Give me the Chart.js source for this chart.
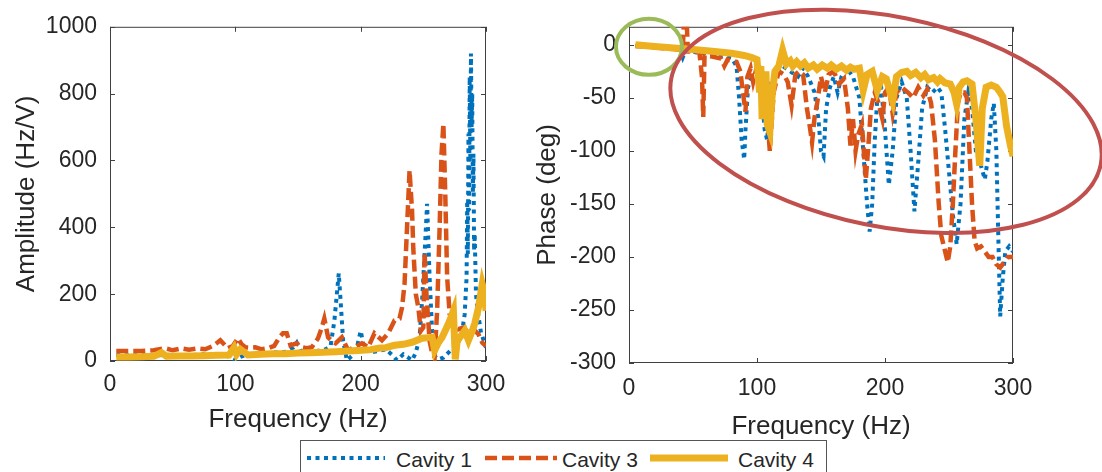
<!DOCTYPE html>
<html>
<head>
<meta charset="utf-8">
<script src="https://cdn.jsdelivr.net/npm/chart.js@4.4.1/dist/chart.umd.min.js"></script>
<style>
  html, body { margin: 0; padding: 0; background: #fff; overflow: hidden; }
  body { width: 1102px; height: 472px; position: relative; font-family: 'Liberation Sans', Arial, sans-serif; }
  #ampChart { position: absolute; left: 0; top: 0; }
  #phaseChart { position: absolute; left: 520px; top: 0; }
  #legend { position: absolute; left: 300px; top: 440px; width: 525px; height: 40px;
            border: 1px solid #555; background: #fff; z-index: 2; }
  #legend canvas, #legend span { position: absolute; }
  #legend span { font-size: 21px; line-height: 21px; color: #262626; white-space: nowrap; }
</style>
</head>
<body>
<canvas id="ampChart" width="520" height="450"></canvas>
<canvas id="phaseChart" width="582" height="450"></canvas>
<div id="legend">
  <canvas id="sw1" width="78" height="10" style="left:6px;top:12px"></canvas>
  <span style="left:95px;top:8px">Cavity 1</span>
  <canvas id="sw2" width="72" height="10" style="left:184px;top:12px"></canvas>
  <span style="left:261px;top:8px">Cavity 3</span>
  <canvas id="sw3" width="78" height="10" style="left:349px;top:12px"></canvas>
  <span style="left:437px;top:8px">Cavity 4</span>
</div>
<script>
// Amplitude / phase of the three cavities

const freqTicks = [0, 100, 200, 300];
const ampTicks = [0, 200, 400, 600, 800, 1000];
const phaseTicks = [-300, -250, -200, -150, -100, -50, 0];

// amplitude (Hz/V)
const ampFreq1 = [5, 15, 25, 35, 45, 55, 65, 75, 85, 92, 96, 100, 104, 110, 120, 130, 140, 146, 149, 152, 158, 165, 172, 176, 179, 181, 182.5, 184, 186, 189, 193, 197, 200, 203, 208, 214, 220, 226, 229, 234, 238, 241, 244, 247, 249, 251, 253, 255, 257, 259, 262, 266, 270, 274, 278, 281, 283, 284.5, 285, 285.5, 286, 286.5, 287, 287.5, 288, 288.5, 289, 289.5, 290, 290.5, 291, 292, 293, 296, 300];
const ampCav1 = [18, 17, 18, 16, 19, 17, 18, 20, 18, 22, 8, 2, 12, 20, 22, 25, 28, 40, 55, 30, 28, 30, 35, 45, 120, 200, 262, 180, 60, 2, 15, 40, 90, 35, 25, 30, 35, 15, 2, 20, 10, 2, 25, 70, 180, 320, 470, 250, 90, 15, 5, 10, 25, 40, 53, 90, 140, 250, 480, 320, 680, 450, 850, 600, 920, 700, 800, 500, 620, 330, 380, 200, 160, 85, 40];

const ampFreq3 = [5, 15, 25, 35, 44, 50, 57, 63, 70, 76, 82, 86, 88, 91, 94, 98, 102, 105, 108, 112, 116, 121, 126, 131, 135, 138, 141, 144, 149, 153, 157, 161, 166, 169, 171, 174, 177, 180, 185, 190, 195, 201, 206, 211, 217, 222, 227, 231, 233, 235, 237, 239, 241, 242, 244, 246, 248, 250, 251, 252.5, 255, 257, 259, 261, 263, 264.5, 266, 267.5, 269, 271, 274, 278, 282, 286, 290, 294, 297, 300];
const ampCav3 = [30, 30, 30, 32, 38, 32, 38, 34, 38, 35, 45, 56, 62, 50, 38, 45, 68, 50, 41, 40, 41, 35, 38, 45, 70, 83, 83, 47, 53, 41, 38, 41, 68, 100, 127, 71, 60, 53, 71, 32, 41, 53, 41, 83, 62, 83, 121, 127, 160, 230, 400, 570, 450, 336, 200, 160, 90, 100, 325, 200, 60, 24, 12, 150, 400, 620, 710, 500, 250, 140, 120, 95, 100, 85, 95, 80, 55, 45];

const ampFreq4 = [5, 15, 25, 35, 41, 45, 55, 65, 75, 85, 95, 99, 101, 104, 110, 120, 130, 140, 150, 160, 170, 180, 190, 201, 208, 214, 220, 227, 234, 241, 249, 254, 257, 259, 262, 265, 268, 270, 272, 274, 275.5, 277, 280, 283, 286, 289, 291, 294, 297, 299, 300];
const ampCav4 = [12, 12, 13, 14, 25, 14, 15, 15, 16, 17, 18, 40, 20, 35, 18, 20, 22, 22, 24, 25, 26, 28, 30, 32, 34, 38, 40, 47, 50, 56, 68, 70, 71, 32, 55, 71, 95, 112, 130, 150, 5, 60, 75, 91, 62, 90, 112, 160, 230, 200, 150];

// phase (deg)
const phFreq1 = [5, 20, 35, 40, 42, 44, 60, 80, 84, 86, 88, 90, 91, 93, 96, 100, 103, 106, 108, 110, 114, 120, 126, 132, 136, 140, 145, 148, 150, 152, 154, 157, 160, 163, 166, 170, 175, 180, 183, 186, 188, 190, 192, 194, 197, 200, 203, 206, 209, 213, 217, 220, 223, 226, 229, 233, 237, 241, 244, 247, 250, 253, 256, 259, 262, 265, 268, 271, 275, 278, 280, 283, 285, 287, 288.5, 290, 292, 294, 297, 300];
const phCav1 = [-1, -2.5, -4, -5, -12, -6, -8, -12, -20, -50, -90, -108, -80, -40, -30, -25, -40, -80, -90, -40, -25, -20, -25, -30, -22, -30, -45, -70, -100, -105, -60, -40, -30, -45, -30, -22, -30, -50, -100, -150, -176, -150, -90, -50, -40, -80, -132, -100, -50, -35, -50, -100, -157, -110, -60, -40, -45, -40, -45, -80, -120, -160, -188, -150, -70, -45, -60, -100, -114, -127, -110, -70, -55, -100, -180, -256, -220, -195, -190, -195];

const phFreq3 = [5, 20, 35, 42, 43.5, 44.5, 46, 55, 57, 58, 59, 65, 72, 74.5, 77, 84, 87, 89, 91, 92.5, 95, 97, 100, 104, 107, 110, 113, 117, 121, 124, 127, 130, 133, 136, 139, 141, 143, 145, 147, 150, 153, 156, 160, 164, 168, 171, 173, 175, 177, 179, 182, 185, 187, 189, 192, 195, 198, 200, 203, 206, 209, 213, 218, 222, 226, 230, 233, 236, 239, 242, 244, 247, 249, 251, 253, 255, 257, 259, 262, 264, 266, 268, 270, 272, 275, 278, 281, 284, 287, 290, 293, 296, 300];
const phCav3 = [-1, -2.5, -4, -5, 40, 40, -6, -7, -30, -68, -10, -11, -13, -20, -14, -16, -25, -45, -63, -30, -22, -35, -20, -22, -50, -100, -45, -25, -28, -35, -57, -28, -25, -28, -60, -75, -92, -68, -55, -30, -45, -28, -25, -37, -32, -60, -95, -70, -100, -85, -75, -127, -95, -60, -45, -55, -70, -45, -40, -65, -45, -40, -45, -50, -40, -48, -42, -55, -90, -150, -180, -195, -205, -190, -150, -100, -55, -45, -45, -50, -100, -150, -185, -192, -190, -195, -200, -200, -207, -210, -205, -200, -200];

const phFreq4 = [5, 20, 35, 50, 65, 80, 90, 96, 100, 101, 102, 103, 104, 105, 106, 107, 108, 110, 112, 114, 117, 120, 123, 126, 128, 131, 134, 137, 140, 144, 147, 151, 155, 158, 162, 166, 170, 173, 176, 180, 183, 186, 190, 194, 198, 201, 204, 206, 209, 213, 217, 220, 224, 228, 231, 234, 238, 241, 243, 247, 251, 254, 256, 258, 261, 264, 268, 271, 274, 276, 279, 283, 287, 290, 292, 295, 298, 300];
const phCav4 = [0, -1.5, -3, -4.5, -6, -8, -10, -12, -14, -30, -45, -20, -70, -35, -60, -25, -75, -82, -45, -25, -20, -5, -18, -15, -20, -16, -20, -17, -22, -19, -23, -19, -22, -19, -23, -20, -24, -21, -23, -22, -43, -28, -25, -43, -30, -32, -45, -53, -30, -26, -25, -29, -26, -31, -28, -33, -31, -35, -32, -36, -37, -45, -56, -40, -35, -34, -37, -70, -114, -60, -40, -38, -40, -45, -49, -77, -95, -105];

// line looks (matlab default colours)
const styles = [
  { label: 'Cavity 1', color: '#0072BD', width: 4, dash: [4, 4.5] },
  { label: 'Cavity 3', color: '#D95319', width: 4.5, dash: [12, 5] },
  { label: 'Cavity 4', color: '#EDB120', width: 7, dash: [] }
];

// circles drawn on the phase plot (centre in data units, radii in px)
const rings = [
  { f: 15.6, ph: -1.9, rx: 33, ry: 28, rot: 0, color: '#9BBB59' },
  { f: 200.8, ph: -72.2, rx: 219, ry: 105, rot: 11.4, color: '#C0504D' }
];

const axisColor = '#404040';
const textColor = '#262626';
Chart.defaults.font.family = "'Liberation Sans', Arial, sans-serif";
Chart.defaults.color = textColor;

function toPoints(xs, ys) {
  return xs.map((x, i) => ({ x: x, y: ys[i] }));
}

function makeDatasets(pairs) {
  return pairs.map((p, i) => ({
    label: styles[i].label,
    data: toPoints(p[0], p[1]),
    borderColor: styles[i].color,
    borderWidth: styles[i].width,
    borderDash: styles[i].dash,
    borderCapStyle: 'butt',
    borderJoinStyle: 'miter',
    pointRadius: 0,
    tension: 0,
    fill: false,
    order: 2 - i
  }));
}

// box round the plot with inward ticks on all four sides
const boxPlugin = {
  id: 'matlabBox',
  beforeDatasetsDraw(chart) {
    const { ctx, chartArea: a, scales } = chart;
    ctx.save();
    ctx.strokeStyle = axisColor;
    ctx.lineWidth = 1;
    ctx.strokeRect(a.left + 0.5, a.top + 0.5, a.width - 1, a.height - 1);
    ctx.beginPath();
    scales.x.ticks.forEach(t => {
      const px = Math.round(scales.x.getPixelForValue(t.value)) + 0.5;
      ctx.moveTo(px, a.bottom); ctx.lineTo(px, a.bottom - 5);
      ctx.moveTo(px, a.top); ctx.lineTo(px, a.top + 5);
    });
    scales.y.ticks.forEach(t => {
      const py = Math.round(scales.y.getPixelForValue(t.value)) + 0.5;
      ctx.moveTo(a.left, py); ctx.lineTo(a.left + 5, py);
      ctx.moveTo(a.right, py); ctx.lineTo(a.right - 5, py);
    });
    ctx.stroke();
    ctx.restore();
  }
};

const ringPlugin = {
  id: 'rings',
  afterDraw(chart) {
    const { ctx, scales } = chart;
    ctx.save();
    ctx.lineWidth = 4;
    rings.forEach(r => {
      ctx.strokeStyle = r.color;
      ctx.beginPath();
      ctx.ellipse(scales.x.getPixelForValue(r.f), scales.y.getPixelForValue(r.ph),
        r.rx, r.ry, r.rot * Math.PI / 180, 0, 2 * Math.PI);
      ctx.stroke();
    });
    ctx.restore();
  }
};

function axes(yMin, yMax, yTickVals, yTitle, yWidth, xHeight, xTitlePad, yTitlePad, xTickPad) {
  return {
    x: {
      type: 'linear', min: 0, max: 300,
      afterBuildTicks: s => { s.ticks = freqTicks.map(v => ({ value: v })); },
      afterFit: s => { s.height = xHeight; },
      grid: { display: false, drawTicks: false },
      border: { display: false },
      ticks: { font: { size: 23 }, color: textColor, padding: xTickPad, maxRotation: 0,
               callback: v => String(v) },
      title: { display: true, text: 'Frequency (Hz)', font: { size: 26 }, color: textColor,
               padding: { top: 0, bottom: xTitlePad } }
    },
    y: {
      type: 'linear', min: yMin, max: yMax,
      afterBuildTicks: s => { s.ticks = yTickVals.map(v => ({ value: v })); },
      afterFit: s => { s.width = yWidth; },
      grid: { display: false, drawTicks: false },
      border: { display: false },
      ticks: { font: { size: 23 }, color: textColor, padding: 13, callback: v => String(v) },
      title: { display: true, text: yTitle, font: { size: 26 }, color: textColor,
               padding: { top: yTitlePad, bottom: 0 } }
    }
  };
}

new Chart(document.getElementById('ampChart'), {
  type: 'line',
  data: { datasets: makeDatasets([[ampFreq1, ampCav1], [ampFreq3, ampCav3], [ampFreq4, ampCav4]]) },
  options: {
    responsive: false,
    animation: false,
    layout: { padding: { top: 22, right: 34, left: 0, bottom: 0 } },
    scales: axes(0, 1000, ampTicks, 'Amplitude (Hz/V)', 110, 89, 15, 11, 10),
    plugins: { legend: { display: false }, tooltip: { enabled: false } }
  },
  plugins: [boxPlugin]
});

new Chart(document.getElementById('phaseChart'), {
  type: 'line',
  data: { datasets: makeDatasets([[phFreq1, phCav1], [phFreq3, phCav3], [phFreq4, phCav4]]) },
  options: {
    responsive: false,
    animation: false,
    layout: { padding: { top: 22, right: 89, left: 0, bottom: 0 } },
    scales: axes(-300, 17, phaseTicks, 'Phase (deg)', 109, 87, 8, 12, 12),
    plugins: { legend: { display: false }, tooltip: { enabled: false } }
  },
  plugins: [boxPlugin, ringPlugin]
});

// legend swatches
['sw1', 'sw2', 'sw3'].forEach((id, i) => {
  const c = document.getElementById(id);
  const g = c.getContext('2d');
  g.strokeStyle = styles[i].color;
  g.lineWidth = styles[i].width;
  g.setLineDash(styles[i].dash);
  g.beginPath();
  g.moveTo(0, c.height / 2);
  g.lineTo(c.width, c.height / 2);
  g.stroke();
});
</script>
</body>
</html>
